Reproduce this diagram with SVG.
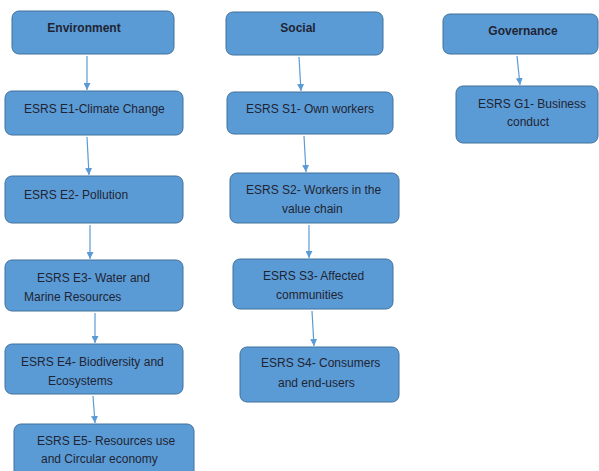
<svg xmlns="http://www.w3.org/2000/svg" width="599" height="471" viewBox="0 0 599 471">
<style>
.box{fill:#5B9BD5;stroke:#41719C;stroke-width:1}
.t{font-family:"Liberation Sans",Arial,sans-serif;font-size:12px;fill:#1f2433}
.h{font-family:"Liberation Sans",Arial,sans-serif;font-size:12px;font-weight:bold;fill:#1f2433}
.c line{stroke:#5B9BD5;stroke-width:1.2;marker-end:url(#ah)}
</style>
<defs>
<marker id="ah" viewBox="0 0 10 10" refX="10" refY="5" markerWidth="7" markerHeight="7" markerUnits="userSpaceOnUse" orient="auto"><path d="M0,0 L10,5 L0,10 z" fill="#5B9BD5"/></marker>
</defs>
<rect width="599" height="471" fill="#ffffff"/>
<g class="c">
<line x1="87" y1="56" x2="87" y2="90"/>
<line x1="87" y1="137" x2="89" y2="175"/>
<line x1="90" y1="225" x2="90" y2="259"/>
<line x1="95" y1="313" x2="95" y2="343"/>
<line x1="93" y1="396" x2="95" y2="423"/>
<line x1="299" y1="57" x2="301" y2="91"/>
<line x1="304" y1="136" x2="306" y2="172"/>
<line x1="309" y1="225" x2="309" y2="258"/>
<line x1="312" y1="311" x2="314" y2="346"/>
<line x1="517" y1="56" x2="520" y2="85"/>
</g>
<g id="environment"><rect class="box" x="12" y="11" width="162" height="43" rx="7"/><text class="h" x="84" y="32" text-anchor="middle">Environment</text></g>
<g id="e1"><rect class="box" x="5" y="91" width="178" height="44" rx="7"/><text class="t" x="24" y="113">ESRS E1-Climate Change</text></g>
<g id="e2"><rect class="box" x="5" y="176" width="178" height="47" rx="7"/><text class="t" x="24" y="199">ESRS E2- Pollution</text></g>
<g id="e3"><rect class="box" x="5" y="260" width="178" height="51" rx="7"/><text class="t" x="37" y="282">ESRS E3- Water and</text><text class="t" x="24" y="301">Marine Resources</text></g>
<g id="e4"><rect class="box" x="5" y="344" width="178" height="50" rx="7"/><text class="t" x="21" y="366">ESRS E4- Biodiversity and</text><text class="t" x="48" y="385">Ecosystems</text></g>
<g id="e5"><rect class="box" x="14" y="424" width="180" height="55" rx="7"/><text class="t" x="37" y="445">ESRS E5- Resources use</text><text class="t" x="41" y="463">and Circular economy</text></g>
<g id="social"><rect class="box" x="226" y="12" width="157" height="43" rx="7"/><text class="h" x="298" y="32" text-anchor="middle">Social</text></g>
<g id="s1"><rect class="box" x="227" y="92" width="166" height="42" rx="7"/><text class="t" x="246" y="113">ESRS S1- Own workers</text></g>
<g id="s2"><rect class="box" x="230" y="173" width="169" height="50" rx="7"/><text class="t" x="246" y="194">ESRS S2- Workers in the</text><text class="t" x="282" y="213">value chain</text></g>
<g id="s3"><rect class="box" x="233" y="259" width="160" height="50" rx="7"/><text class="t" x="263" y="280">ESRS S3- Affected</text><text class="t" x="276" y="299">communities</text></g>
<g id="s4"><rect class="box" x="240" y="347" width="159" height="55" rx="7"/><text class="t" x="261" y="367">ESRS S4- Consumers</text><text class="t" x="278" y="387">and end-users</text></g>
<g id="governance"><rect class="box" x="443" y="14" width="155" height="40" rx="7"/><text class="h" x="523" y="35" text-anchor="middle">Governance</text></g>
<g id="g1"><rect class="box" x="456" y="86" width="142" height="57" rx="7"/><text class="t" x="478" y="108">ESRS G1- Business</text><text class="t" x="507" y="126">conduct</text></g>
</svg>
